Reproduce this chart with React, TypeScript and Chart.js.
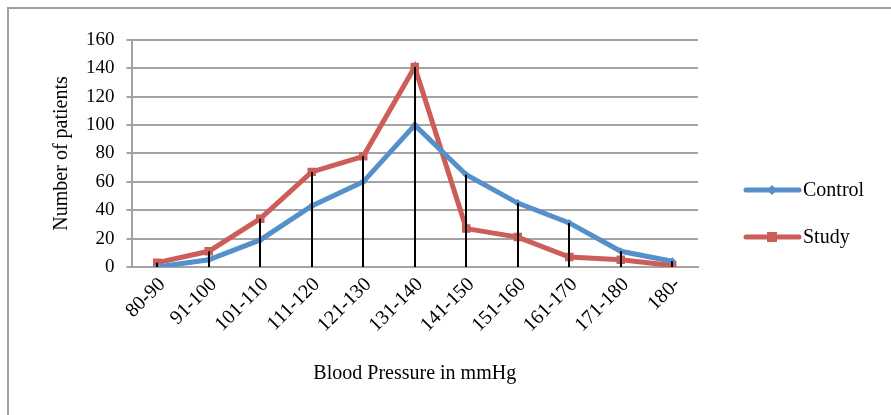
import React, { useEffect, useRef } from "react";
import { Chart, registerables } from "chart.js";

Chart.register(...registerables);

const categories = ["80-90", "91-100", "101-110", "111-120", "121-130", "131-140", "141-150", "151-160", "161-170", "171-180", "180-"];
const controlValues = [0, 5, 19, 43, 60, 100, 65, 45, 31, 11, 4];
const studyValues = [3, 11, 34, 67, 78, 141, 27, 21, 7, 5, 1];
const seriesNames = ["Control", "Study"];
const yTicks = [0, 20, 40, 60, 80, 100, 120, 140, 160];

const BLUE = "#5590CA";
const RED = "#CC5D59";
const GRID = "#a3a3a3";
const FONT = "'Liberation Serif', 'Times New Roman', serif";

const dropLines = {
  id: "dropLines",
  afterDatasetsDraw(chart: any) {
    const { ctx, scales } = chart;
    const x = scales.x;
    const y = scales.y;
    ctx.save();
    ctx.strokeStyle = "#000";
    ctx.lineWidth = 2;
    categories.forEach((_, i) => {
      const top = Math.max(controlValues[i], studyValues[i]);
      const px = Math.round(x.getPixelForValue(i));
      ctx.beginPath();
      ctx.moveTo(px, y.getPixelForValue(top));
      ctx.lineTo(px, y.getPixelForValue(0));
      ctx.stroke();
    });
    ctx.restore();
  },
};

const frameAndLegend = {
  id: "frameAndLegend",
  beforeDraw(chart: any) {
    const { ctx } = chart;
    ctx.save();
    ctx.strokeStyle = "#a0a0a0";
    ctx.lineWidth = 2;
    ctx.strokeRect(8, 8, 2000, 2000);
    ctx.restore();
  },
  afterDraw(chart: any) {
    const { ctx } = chart;
    ctx.save();
    const items = [
      { name: seriesNames[0], color: BLUE, style: "diamond", y: 190 },
      { name: seriesNames[1], color: RED, style: "square", y: 237 },
    ];
    items.forEach((it) => {
      ctx.strokeStyle = it.color;
      ctx.lineWidth = 5;
      ctx.lineCap = "round";
      ctx.beginPath();
      ctx.moveTo(746, it.y);
      ctx.lineTo(799, it.y);
      ctx.stroke();
      ctx.fillStyle = it.color;
      if (it.style === "diamond") {
        ctx.beginPath();
        ctx.moveTo(772, it.y - 5);
        ctx.lineTo(777, it.y);
        ctx.lineTo(772, it.y + 5);
        ctx.lineTo(767, it.y);
        ctx.closePath();
        ctx.fill();
      } else {
        ctx.fillRect(767, it.y - 5, 10, 10);
      }
      ctx.fillStyle = "#000";
      ctx.font = `20px ${FONT}`;
      ctx.textBaseline = "middle";
      ctx.textAlign = "left";
      ctx.fillText(it.name, 803, it.y + 1);
    });
    ctx.restore();
  },
};

export default function App() {
  const ref = useRef<HTMLCanvasElement>(null);
  useEffect(() => {
    const chart = new Chart(ref.current!, {
      type: "line",
      data: {
        labels: categories,
        datasets: [
          {
            label: seriesNames[0],
            data: controlValues,
            borderColor: BLUE,
            backgroundColor: BLUE,
            borderWidth: 5,
            pointStyle: "rectRot",
            pointRadius: 4,
            pointBorderWidth: 0,
            tension: 0,
          },
          {
            label: seriesNames[1],
            data: studyValues,
            borderColor: RED,
            backgroundColor: RED,
            borderWidth: 5,
            pointStyle: "rect",
            pointRadius: 6,
            pointBorderWidth: 0,
            tension: 0,
          },
        ],
      },
      options: {
        responsive: false,
        animation: false,
        devicePixelRatio: 1,
        layout: { padding: { left: 50, right: 193, top: 40, bottom: 29 } },
        plugins: { legend: { display: false }, tooltip: { enabled: false } },
        scales: {
          x: {
            offset: true,
            grid: { display: false, drawTicks: false },
            border: { color: GRID, width: 2 },
            ticks: {
              color: "#000",
              font: { family: FONT, size: 20 },
              maxRotation: 45,
              minRotation: 45,
              padding: 6,
              labelOffset: 5,
            },
            title: {
              display: true,
              text: "Blood Pressure in mmHg",
              color: "#000",
              font: { family: FONT, size: 20 },
              padding: { top: 19, bottom: 0 },
            },
          },
          y: {
            min: 0,
            max: 160,
            afterBuildTicks(scale: any) {
              scale.ticks = yTicks.map((v) => ({ value: v }));
            },
            grid: { color: GRID, lineWidth: 2, tickLength: 5 },
            border: { color: GRID, width: 2 },
            ticks: {
              color: "#000",
              font: { family: FONT, size: 19 },
              padding: 12,
            },
            title: {
              display: true,
              text: "Number of patients",
              color: "#000",
              font: { family: FONT, size: 20 },
              padding: { top: 0, bottom: 0 },
            },
          },
        },
      },
      plugins: [dropLines, frameAndLegend],
    });
    return () => chart.destroy();
  }, []);
  return (
    <div style={{ position: "fixed", left: 0, top: 0, width: 891, height: 415, overflow: "hidden", background: "#fff" }}>
      <canvas ref={ref} width={891} height={415} style={{ display: "block" }} />
    </div>
  );
}
